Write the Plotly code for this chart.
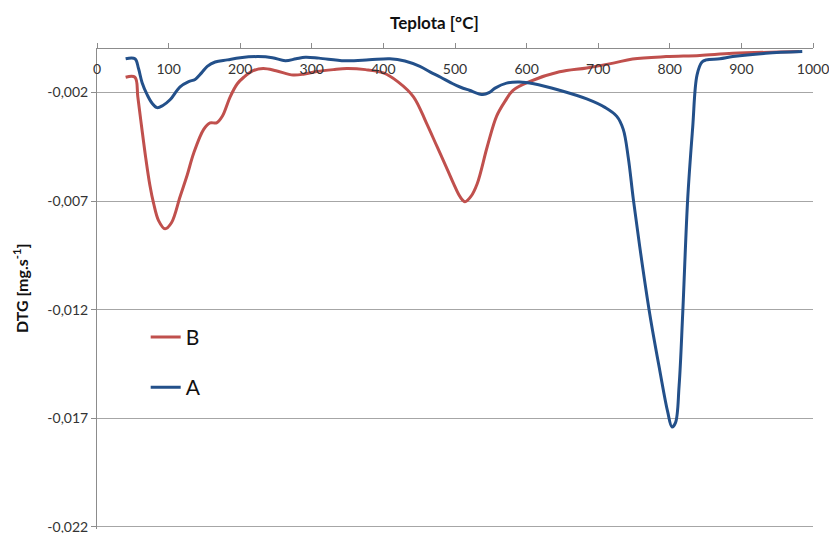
import plotly.graph_objects as go

# DTG curves: temperature [°C] vs. mass-loss rate [mg/s]
temp_a = [40, 53, 58, 63, 70, 77, 84, 92, 102, 116, 128, 137, 146, 154, 165, 182,
          200, 225, 245, 263, 278, 291, 310, 346, 380, 409, 430, 451, 465, 480,
          497, 507, 520, 539, 548, 556, 572, 590, 610, 646, 684, 710, 726, 735,
          742, 749, 758, 772, 786, 797, 803, 808, 813, 818, 825, 832, 838, 845,
          851, 870, 888, 934, 985]
dtg_a = [-0.00045, -0.00045, -0.0009, -0.00155, -0.0021, -0.0025, -0.0027, -0.0026,
         -0.00234, -0.00174, -0.0015, -0.0014, -0.0011, -0.0008, -0.0006, -0.0005,
         -0.0004, -0.00035, -0.0004, -0.00054, -0.00045, -0.00038, -0.00042,
         -0.00054, -0.0005, -0.00045, -0.00055, -0.0008, -0.00105, -0.0013,
         -0.0016, -0.00175, -0.0019, -0.0021, -0.002, -0.0018, -0.00157, -0.00152,
         -0.0016, -0.0019, -0.0023, -0.0027, -0.0031, -0.0037, -0.005, -0.0069,
         -0.0091, -0.0122, -0.0148, -0.0167, -0.0174, -0.0172, -0.0155, -0.0122,
         -0.0069, -0.0036, -0.0012, -0.0006, -0.0005, -0.00045, -0.00035, -0.0002,
         -0.00012]

temp_b = [40, 53, 57, 62, 68, 74, 79, 86, 95, 104, 116, 126, 135, 149, 158, 167,
          175, 186, 196, 205, 218, 232, 250, 274, 290, 307, 330, 349, 375, 400,
          420, 442, 460, 475, 490, 498, 507, 514, 522, 531, 545, 558, 570, 581,
          604, 646, 684, 721, 748, 795, 842, 888, 981]
dtg_b = [-0.0013, -0.0013, -0.0022, -0.0035, -0.005, -0.0063, -0.0071, -0.0079,
         -0.00828, -0.008, -0.0068, -0.0058, -0.0048, -0.0037, -0.0034, -0.0034,
         -0.0031, -0.0022, -0.0016, -0.0013, -0.001, -0.0009, -0.001, -0.0012,
         -0.00115, -0.00104, -0.00095, -0.0009, -0.00095, -0.0011, -0.0015,
         -0.0022, -0.0034, -0.0045, -0.0056, -0.0062, -0.0068, -0.00703, -0.0068,
         -0.0062, -0.0045, -0.0031, -0.0024, -0.0019, -0.0015, -0.00105, -0.00087,
         -0.00065, -0.00046, -0.00035, -0.0003, -0.0002, -0.00012]

# axis ticks
x_ticks = [0, 100, 200, 300, 400, 500, 600, 700, 800, 900, 1000]
y_ticks = [-0.002, -0.007, -0.012, -0.017, -0.022]
y_tick_labels = ["-0,002", "-0,007", "-0,012", "-0,017", "-0,022"]

RED = "#C0504D"
BLUE = "#23508A"
FONT = "Lato"

fig = go.Figure()
fig.add_trace(go.Scatter(x=temp_b, y=dtg_b, name="B", mode="lines",
                         legendgroup="b",
                         line=dict(color=RED, width=3, shape="spline", smoothing=1.0)))
fig.add_trace(go.Scatter(x=temp_a, y=dtg_a, name="A", mode="lines",
                         legendgroup="a",
                         line=dict(color=BLUE, width=3, shape="spline", smoothing=1.0)))

fig.update_layout(
    width=829, height=533,
    margin=dict(l=97, r=16, t=49, b=4, autoexpand=False),
    paper_bgcolor="white", plot_bgcolor="white",
    separators=",.",
    font=dict(family=FONT, size=14, color="#222222"),
    showlegend=True,
    legend=dict(x=0.068, y=0.442, xanchor="left", yanchor="top",
                font=dict(family=FONT, size=21, color="#111111"),
                bgcolor="rgba(0,0,0,0)", tracegroupgap=20, traceorder="grouped"),
    xaxis=dict(range=[0, 1000], side="top", tickvals=x_ticks,
               automargin=False,
               showline=True, linecolor="#8C8C8C", linewidth=1,
               ticks="outside", ticklen=5, tickcolor="#8C8C8C",
               ticklabelposition="inside", ticklabeloverflow="allow",
               ticklabelstandoff=15,
               showgrid=False, zeroline=False,
               tickfont=dict(family=FONT, size=14, color="#333333")),
    yaxis=dict(range=[-0.0221, 0], tickvals=y_ticks, ticktext=y_tick_labels,
               ticklabeloverflow="allow", automargin=False,
               showline=True, linecolor="#8C8C8C", linewidth=1,
               ticks="outside", ticklen=5, tickcolor="#8C8C8C",
               showgrid=True, gridcolor="#A6A6A6", gridwidth=1,
               zeroline=False,
               tickfont=dict(family=FONT, size=14, color="#333333")),
    annotations=[
        dict(text="<b>Teplota [°C]</b>", xref="paper", yref="paper",
             x=(434 - 97) / 716, y=1, yshift=27, xanchor="center",
             yanchor="middle", showarrow=False,
             font=dict(family=FONT, size=17, color="#111111")),
        dict(text="<b>DTG [mg.s<sup>-1</sup>]</b>", xref="paper", yref="paper",
             x=(20 - 97) / 716, y=0.5, xanchor="center", yanchor="middle",
             textangle=-90, showarrow=False,
             font=dict(family=FONT, size=16, color="#111111")),
    ],
)

fig.write_html("out.html")
